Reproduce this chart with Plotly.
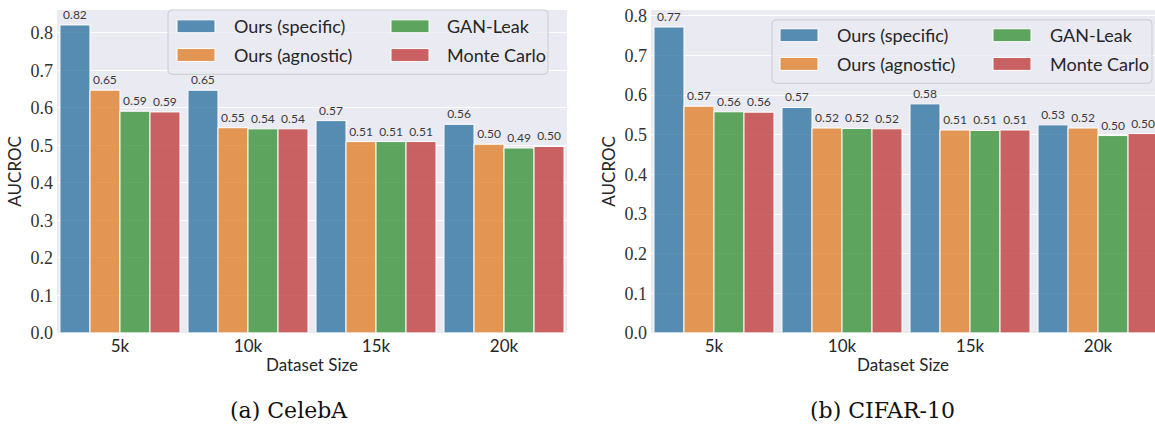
import plotly.graph_objects as go

# ---------------- data ----------------
sizes = ["5k", "10k", "15k", "20k"]
methods = ["Ours (specific)", "Ours (agnostic)", "GAN-Leak", "Monte Carlo"]

celeba_specific = [0.821, 0.647, 0.566, 0.556]
celeba_agnostic = [0.647, 0.547, 0.510, 0.503]
celeba_ganleak = [0.591, 0.544, 0.510, 0.493]
celeba_montecarlo = [0.589, 0.544, 0.510, 0.497]

cifar_specific = [0.772, 0.569, 0.578, 0.525]
cifar_agnostic = [0.572, 0.517, 0.512, 0.517]
cifar_ganleak = [0.558, 0.516, 0.511, 0.498]
cifar_montecarlo = [0.557, 0.515, 0.512, 0.503]

y_ticks = [0.0, 0.1, 0.2, 0.3, 0.4, 0.5, 0.6, 0.7, 0.8]
captions = ["(a) CelebA", "(b) CIFAR-10"]

# ---------------- style ----------------
W, H = 1155, 436
REF_H = 426
colors = ["rgba(50,116,161,0.8)", "rgba(225,129,44,0.8)",
          "rgba(58,146,58,0.8)", "rgba(192,61,61,0.8)"]
BG = "#eaeaf2"
TXT = "#262626"
SANS = "Lato"
SERIF_TICK = "Liberation Serif"
CAP_FONT = "DejaVu Serif"


def px(x):
    return x / W


def py(y):
    return 1 - y / REF_H


fig = go.Figure()

panels = [
    ("x", "y", [celeba_specific, celeba_agnostic, celeba_ganleak, celeba_montecarlo]),
    ("x2", "y2", [cifar_specific, cifar_agnostic, cifar_ganleak, cifar_montecarlo]),
]
for xa, ya, series in panels:
    for name, vals, col in zip(methods, series, colors):
        fig.add_trace(go.Bar(
            x=sizes, y=vals, name=name, xaxis=xa, yaxis=ya,
            marker=dict(color=col, line=dict(color="white", width=1)),
            texttemplate="%{y:.2f}", textposition="outside", textangle=0,
            constraintext="none", cliponaxis=False,
            textfont=dict(family=SANS, size=12, color="#3a3a3a"),
            showlegend=False, hoverinfo="skip",
        ))

ydom = [py(332), py(6)]
common_x = dict(type="category", showgrid=False, zeroline=False, showline=False,
                ticks="", tickfont=dict(family=SANS, size=17, color=TXT),
                ticklabelstandoff=1,
                title=dict(text="Dataset Size", font=dict(family=SANS, size=17, color=TXT),
                           standoff=4))
common_y = dict(showgrid=True, gridcolor="white", gridwidth=1, zeroline=False,
                showline=False, ticks="", tickvals=y_ticks, tickformat=".1f",
                tickfont=dict(family=SERIF_TICK, size=18, color="#333333"),
                ticklabelstandoff=3,
                title=dict(text="AUCROC", font=dict(family=SANS, size=17, color=TXT),
                           standoff=4))

fig.update_layout(
    width=W, height=H, margin=dict(l=0, r=0, t=0, b=0),
    paper_bgcolor="white", plot_bgcolor=BG,
    barmode="group", bargap=0.0625, bargroupgap=0,
    xaxis=dict(domain=[px(57), px(567)], range=[-0.492, 3.492], anchor="y", **common_x),
    yaxis=dict(domain=ydom, range=[0, 0.861], anchor="x", **common_y),
    xaxis2=dict(domain=[px(651), 1.0], range=[-0.492, 3.445], anchor="y2", **common_x),
    yaxis2=dict(domain=ydom, range=[0, 0.815], anchor="x2", **common_y),
    showlegend=False,
)

# ---------------- legends (drawn as box + swatches + text) ----------------
shapes = []
annotations = []


def rounded_rect(x0, y0, x1, y1, r=4):
    rx, ry = r / W, r / REF_H
    X0, X1 = px(x0), px(x1)
    Y0, Y1 = py(y0), py(y1)  # Y0 top, Y1 bottom
    return (f"M {X0+rx},{Y0} L {X1-rx},{Y0} Q {X1},{Y0} {X1},{Y0-ry} "
            f"L {X1},{Y1+ry} Q {X1},{Y1} {X1-rx},{Y1} L {X0+rx},{Y1} "
            f"Q {X0},{Y1} {X0},{Y1+ry} L {X0},{Y0-ry} Q {X0},{Y0} {X0+rx},{Y0} Z")


legend_specs = [
    dict(box=(168, 6, 548, 71), sw=(177, 391), tx=(232, 445), rows=(22.5, 51.5)),
    dict(box=(772, 16, 1152, 80), sw=(780, 993), tx=(835, 1048), rows=(31.5, 60.5)),
]
for spec in legend_specs:
    bx0, by0, bx1, by1 = spec["box"]
    shapes.append(dict(type="path", xref="paper", yref="paper",
                       path=rounded_rect(bx0, by0, bx1, by1),
                       fillcolor="rgba(234,234,242,0.8)",
                       line=dict(color="#cccccc", width=1), layer="above"))
    for i, (name, col) in enumerate(zip(methods, colors)):
        c = i // 2
        r = i % 2
        sx = spec["sw"][c]
        cy = spec["rows"][r]
        shapes.append(dict(type="rect", xref="paper", yref="paper",
                           x0=px(sx), x1=px(sx + 38), y0=py(cy + 6.5), y1=py(cy - 6.5),
                           fillcolor=col, line=dict(color="white", width=1), layer="above"))
        annotations.append(dict(text=name, xref="paper", yref="paper",
                                x=px(spec["tx"][c]), y=py(cy), xanchor="left",
                                yanchor="middle", showarrow=False,
                                font=dict(family=SANS, size=18, color=TXT)))

# captions
for cap, cx in zip(captions, [289, 882]):
    annotations.append(dict(text=cap, xref="paper", yref="paper", x=px(cx), y=py(410),
                            xanchor="center", yanchor="middle", showarrow=False,
                            font=dict(family=CAP_FONT, size=22, color="#111111")))

fig.update_layout(shapes=shapes, annotations=annotations)

fig.write_html("out.html", config={"displayModeBar": False},
               post_script="document.body.style.margin='0';document.body.style.overflow='hidden';")
